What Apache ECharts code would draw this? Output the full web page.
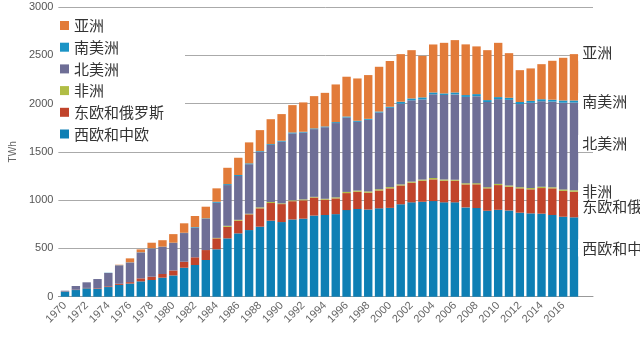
<!DOCTYPE html>
<html><head><meta charset="utf-8">
<script src="https://cdn.jsdelivr.net/npm/echarts@6/dist/echarts.min.js"></script>
<style>html,body{margin:0;padding:0;background:#fff}#c{width:640px;height:341px}</style>
</head><body><div id="c"></div>
<script>
const years = [1970,1971,1972,1973,1974,1975,1976,1977,1978,1979,1980,1981,1982,1983,1984,1985,1986,1987,1988,1989,1990,1991,1992,1993,1994,1995,1996,1997,1998,1999,2000,2001,2002,2003,2004,2005,2006,2007,2008,2009,2010,2011,2012,2013,2014,2015,2016,2017];
const yTicks = [0,500,1000,1500,2000,2500,3000];

const westEurope = [52,69,87,80,100,122,136,159,173,197,220,300,328,380,491,604,656,690,725,787,773,800,808,840,846,855,897,908,903,915,920,957,977,983,990,977,977,925,918,890,900,893,870,863,860,846,828,822];
const eastEurope = [2,3,4,6,8,12,15,31,34,38,52,62,80,103,113,120,131,163,190,183,186,189,190,187,159,163,176,179,174,185,202,195,203,218,225,224,224,238,246,232,256,246,252,249,265,276,268,265];
const africa = [0,0,0,0,0,0,0,0,0,0,0,0,0,0,5,10,9,6,10,11,8,9,10,7,9,11,12,12,13,13,13,11,12,12,14,12,10,12,12,12,12,13,12,14,14,11,15,15];
const northAmerica = [8,39,58,97,138,190,203,268,291,280,284,297,307,322,364,422,454,513,576,590,639,693,692,701,741,769,771,712,742,794,821,836,842,830,867,876,884,894,901,882,878,887,861,882,885,887,898,909];
const southAmerica = [0,0,0,0,2,2,2,2,3,3,3,3,6,6,10,10,10,9,7,9,9,10,8,8,8,10,10,11,10,11,11,20,19,21,19,16,20,19,21,20,21,21,21,20,21,20,23,21];
const asia = [0,0,0,0,0,5,41,30,58,67,89,98,115,121,139,169,179,217,217,258,276,283,304,334,348,390,412,438,453,463,474,493,500,430,497,524,542,525,494,517,562,462,330,336,363,403,442,480];

const seriesNames = ['西欧和中欧','东欧和俄罗斯','非洲','北美洲','南美洲','亚洲'];
const seriesValues = [westEurope, eastEurope, africa, northAmerica, southAmerica, asia];
const legendOrder = ['亚洲','南美洲','北美洲','非洲','东欧和俄罗斯','西欧和中欧'];

const colors = ['#0e7fb4','#c1442b','#b0bd45','#6e6e96','#1b94c6','#e27b39'];
const labelOffsets = [-9, 2, 0, -3, 0, -25];

const cjk = "'Noto Sans CJK SC', sans-serif";
const latin = "'Liberation Sans', 'DejaVu Sans', sans-serif";

const series = seriesNames.map((name, si) => ({
  name: name,
  type: 'bar',
  stack: 'total',
  xAxisIndex: 1,
  yAxisIndex: 1,
  barWidth: 8.4,
  itemStyle: { color: colors[si] },
  data: seriesValues[si].map((v, i) => {
    const item = { value: v };
    if (i === years.length - 1) {
      item.label = {
        show: true, position: 'right', distance: 0,
        offset: [0, labelOffsets[si]],
        formatter: name,
        fontFamily: cjk, fontSize: 15, color: '#333',
        backgroundColor: '#fff', padding: [1, 2, 1, 4]
      };
    }
    return item;
  })
}));

const chart = echarts.init(document.getElementById('c'), null, { renderer: 'canvas' });
chart.setOption({
  animation: false,
  backgroundColor: '#fff',
  grid: [
    { left: 47, right: 47, top: 7, bottom: 44.3, containLabel: false },
    { left: 59.6, right: 60.6, top: 7, bottom: 44.3, containLabel: false }
  ],
  legend: {
    orient: 'vertical', left: 53, top: 10,
    padding: [8, 21, 8, 7],
    backgroundColor: '#fff',
    itemWidth: 9, itemHeight: 9, itemGap: 6.7,
    icon: 'rect',
    data: legendOrder,
    textStyle: { fontFamily: cjk, fontSize: 15, color: '#333', lineHeight: 15 }
  },
  xAxis: [
    {
      gridIndex: 0, type: 'value', min: 0, max: 1,
      splitLine: { show: false },
      axisLine: { show: true, lineStyle: { color: '#999' } },
      axisTick: { show: false }, axisLabel: { show: false }
    },
    {
      gridIndex: 1, type: 'category', data: years,
      axisLine: { show: false }, axisTick: { show: false },
      axisLabel: {
        interval: 1, rotate: 45, fontSize: 11, color: '#666',
        fontFamily: latin, margin: 7
      }
    }
  ],
  yAxis: [
    {
      gridIndex: 0, type: 'value', min: yTicks[0], max: yTicks[yTicks.length - 1], interval: 500,
      name: 'TWh', nameLocation: 'middle', nameGap: 40,
      nameTextStyle: { fontSize: 10, color: '#666', fontFamily: latin },
      axisLine: { show: false }, axisTick: { show: false },
      axisLabel: { fontSize: 11, color: '#555', margin: 5, fontFamily: latin, formatter: v => String(v) },
      splitLine: { lineStyle: { color: '#aaa', width: 1 } }
    },
    {
      gridIndex: 1, type: 'value', min: yTicks[0], max: yTicks[yTicks.length - 1],
      show: false, splitLine: { show: false }
    }
  ],
  series: series
});
</script>
</body></html>
